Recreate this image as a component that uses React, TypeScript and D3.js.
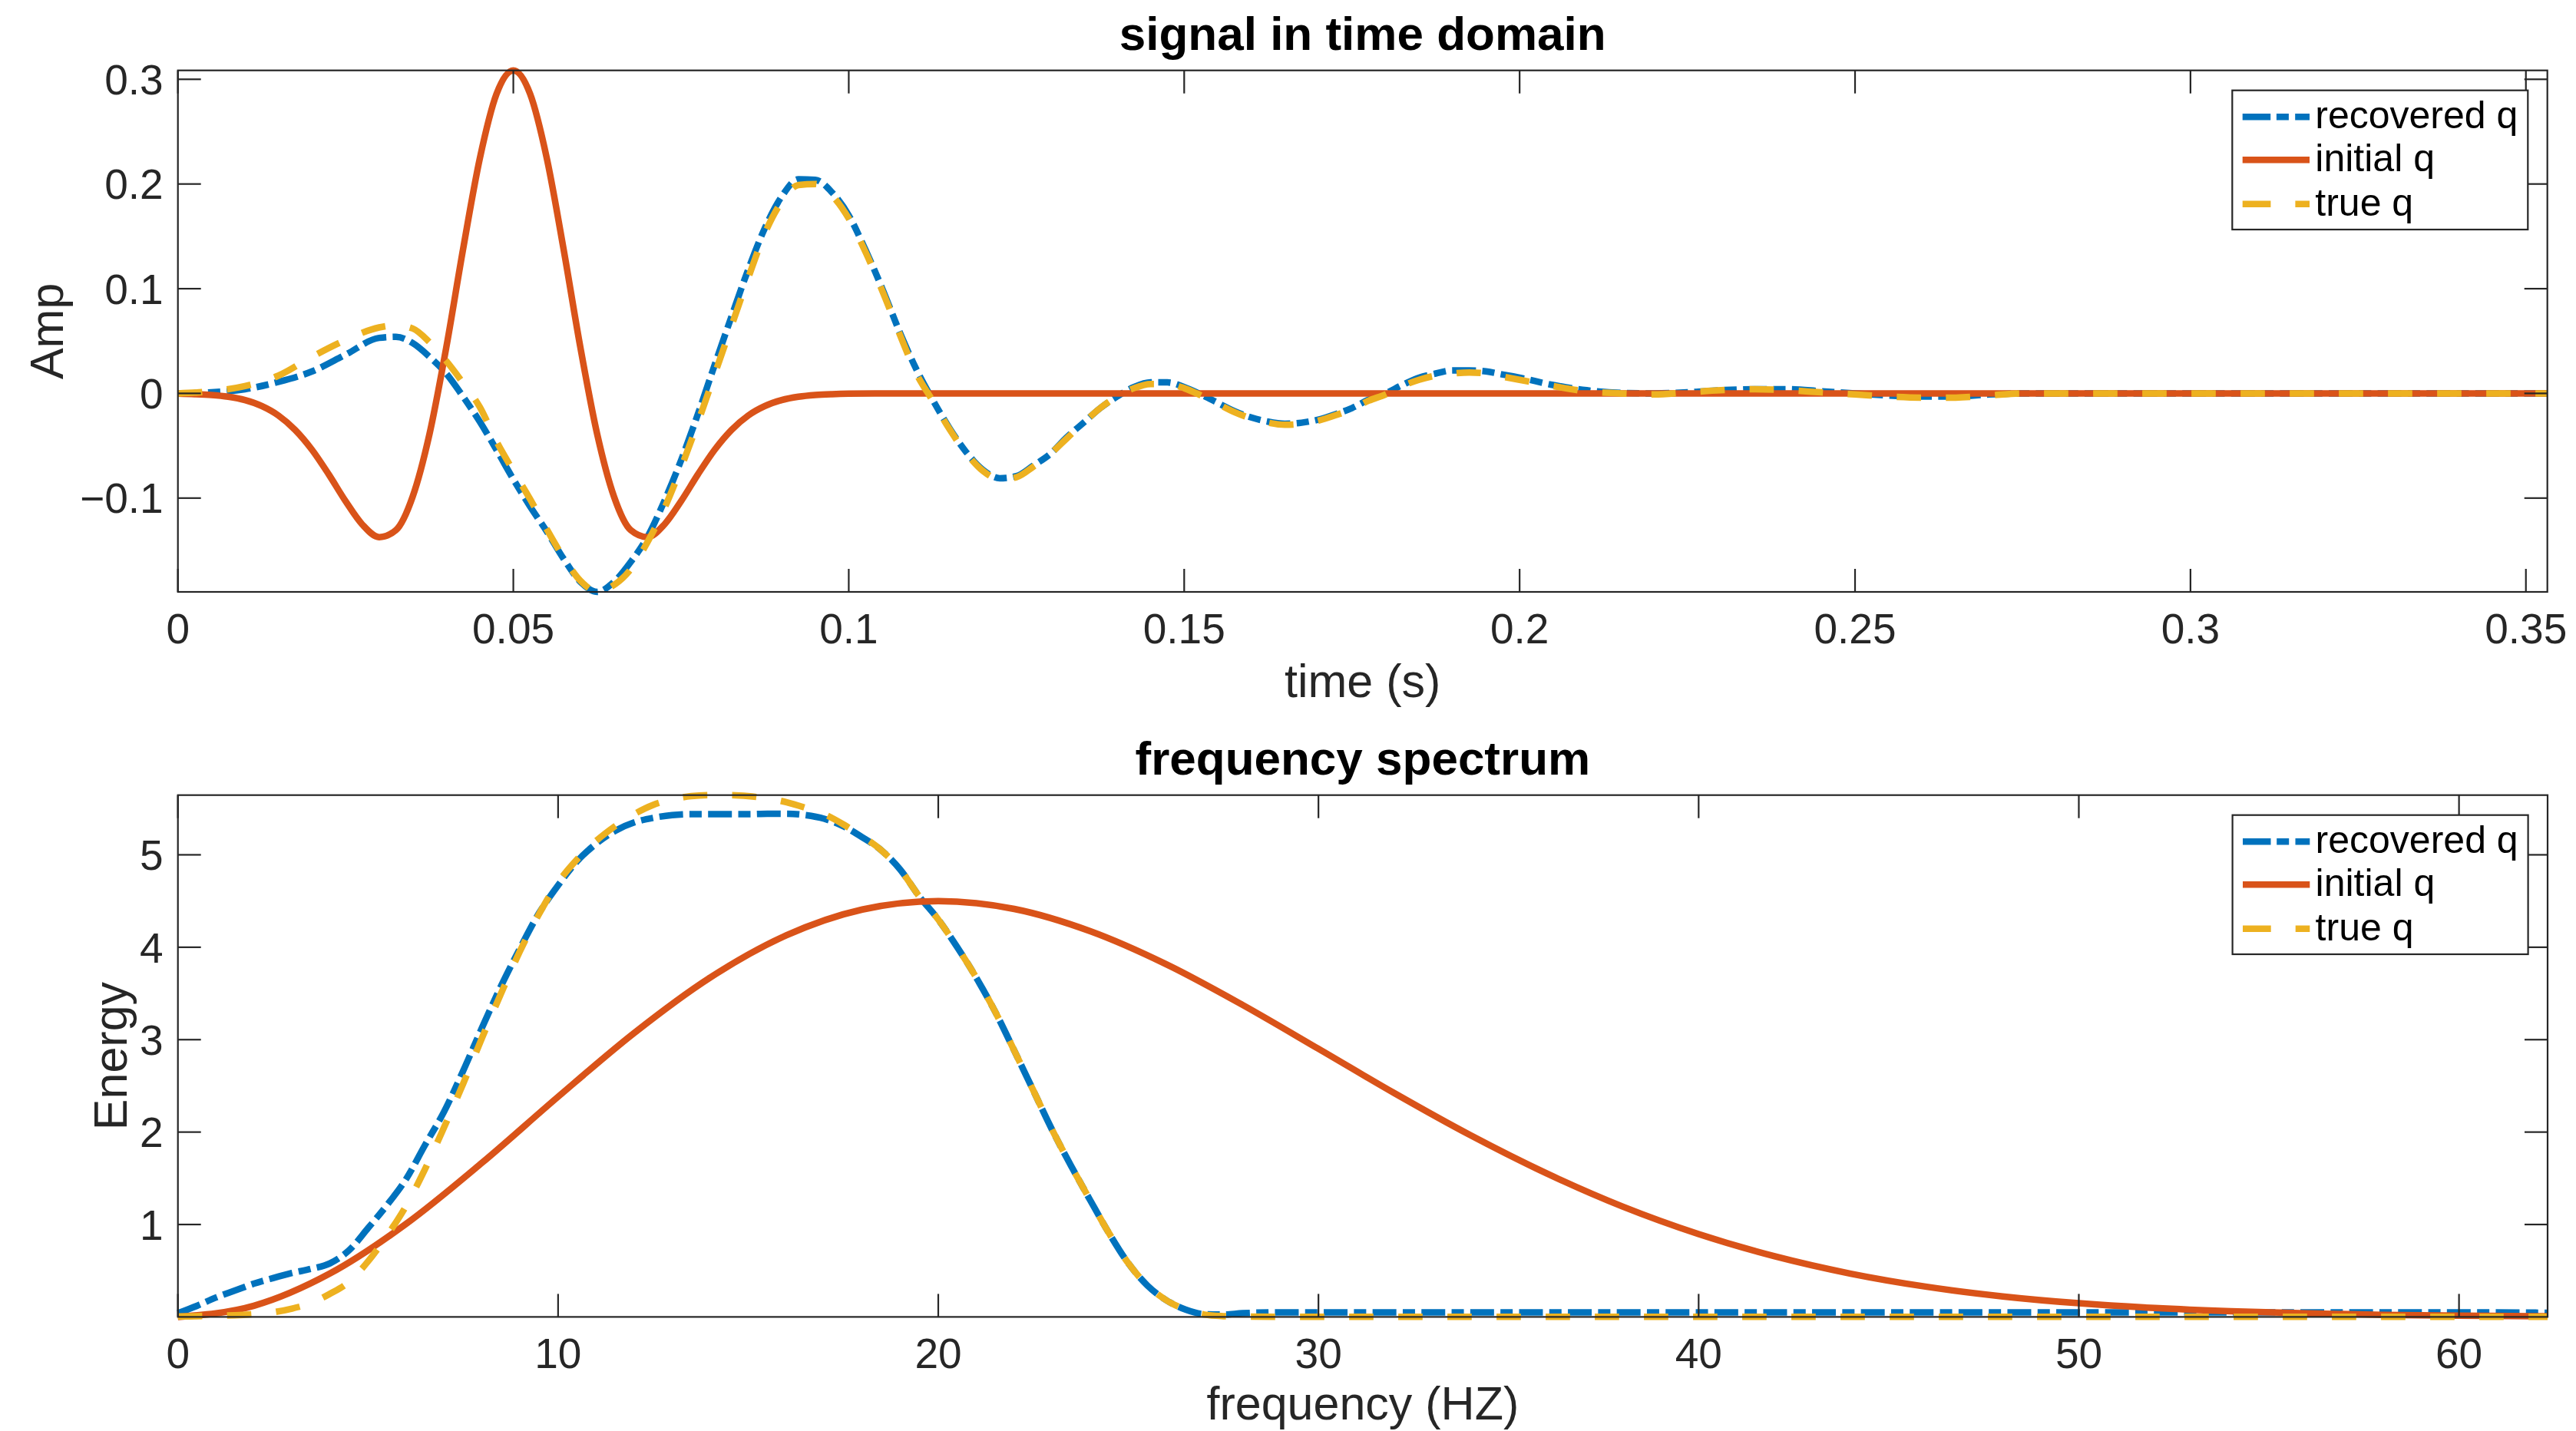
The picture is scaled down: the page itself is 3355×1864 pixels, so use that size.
import React from 'react';
import * as d3 from 'd3';

// ---------------- data: time domain ----------------
const timeInitial = [
  0, 0.0025, 0.005, 0.0075, 0.01, 0.0125, 0.015, 0.0175, 0.02, 0.0225,
  0.025, 0.0275, 0.03, 0.0325, 0.035, 0.0375, 0.04, 0.0425, 0.045, 0.0475,
  0.05,
  0.0525, 0.055, 0.0575, 0.06, 0.0625, 0.065, 0.0675, 0.07, 0.0725, 0.075,
  0.0775, 0.08, 0.0825, 0.085, 0.0875, 0.09, 0.0925, 0.095, 0.0975, 0.1,
  0.105, 0.11, 0.3532,
];
const ampInitial = [
  -0.0003, -0.0007, -0.0015, -0.0032, -0.0064, -0.0121, -0.0212, -0.035, -0.0539, -0.0775,
  -0.103, -0.1253, -0.1373, -0.1306, -0.0985, -0.0389, 0.0437, 0.1374, 0.2243, 0.2861,
  0.3085,
  0.2861, 0.2243, 0.1374, 0.0437, -0.0389, -0.0985, -0.1306, -0.1373, -0.1253, -0.103,
  -0.0775, -0.0539, -0.035, -0.0212, -0.0121, -0.0064, -0.0032, -0.0015, -0.0007, -0.0003,
  -0.0001, 0, 0,
];

const timeGrid = [
  0, 0.005, 0.01, 0.015, 0.02, 0.025, 0.03, 0.0325, 0.035, 0.0375,
  0.04, 0.0425, 0.045, 0.0475, 0.05, 0.0525, 0.055, 0.0575, 0.06, 0.0625,
  0.065, 0.0675, 0.07, 0.0725, 0.075, 0.0775, 0.08, 0.0825, 0.085, 0.0875,
  0.09, 0.0925, 0.095, 0.0975, 0.1, 0.1025, 0.105, 0.1075, 0.11, 0.1125,
  0.115, 0.1175, 0.12, 0.1225, 0.125, 0.1275, 0.13, 0.1325, 0.135, 0.1375,
  0.14, 0.1425, 0.145, 0.1475, 0.15, 0.1525, 0.155, 0.1575, 0.16, 0.1625,
  0.165, 0.1675, 0.17, 0.1725, 0.175, 0.1775, 0.18, 0.1825, 0.185, 0.1875,
  0.19, 0.1925, 0.195, 0.1975, 0.2, 0.205, 0.21, 0.215, 0.22, 0.225,
  0.23, 0.235, 0.24, 0.245, 0.25, 0.255, 0.26, 0.265, 0.27, 0.275, 0.3532,
];
const ampRecovered = [
  0, 0.001, 0.004, 0.011, 0.021, 0.037, 0.053, 0.054, 0.048, 0.035,
  0.019, -0.003, -0.027, -0.054, -0.082, -0.108, -0.132, -0.158, -0.18, -0.1896,
  -0.18, -0.161, -0.137, -0.103, -0.064, -0.02, 0.027, 0.073, 0.118, 0.158,
  0.188, 0.2045, 0.204, 0.192, 0.17, 0.137, 0.1, 0.06, 0.024, -0.006,
  -0.033, -0.056, -0.073, -0.081, -0.079, -0.069, -0.058, -0.042, -0.028, -0.014,
  -0.003, 0.006, 0.0105, 0.0105, 0.006, -0.001, -0.009, -0.017, -0.023, -0.027,
  -0.029, -0.028, -0.025, -0.02, -0.014, -0.006, 0, 0.008, 0.015, 0.019,
  0.022, 0.022, 0.021, 0.018, 0.015, 0.008, 0.003, 0.0005, 0, 0.001,
  0.003, 0.004, 0.004, 0.002, 0, -0.002, -0.003, -0.003, -0.001, 0, 0,
];
const ampTrue = [
  0, 0.002, 0.007, 0.017, 0.035, 0.051, 0.063, 0.065, 0.062, 0.049,
  0.031, 0.01, -0.013, -0.046, -0.074, -0.101, -0.13, -0.157, -0.179, -0.1893,
  -0.183, -0.168, -0.142, -0.11, -0.071, -0.028, 0.018, 0.064, 0.11, 0.153,
  0.183, 0.199, 0.2, 0.189, 0.167, 0.135, 0.098, 0.058, 0.02, -0.007,
  -0.034, -0.057, -0.074, -0.082, -0.08, -0.07, -0.058, -0.043, -0.028, -0.014,
  -0.003, 0.005, 0.009, 0.009, 0.005, -0.002, -0.01, -0.018, -0.024, -0.028,
  -0.03, -0.029, -0.026, -0.021, -0.015, -0.007, -0.001, 0.007, 0.013, 0.017,
  0.019, 0.02, 0.019, 0.016, 0.013, 0.007, 0.002, 0, -0.001, 0.001,
  0.003, 0.004, 0.003, 0.001, -0.001, -0.003, -0.004, -0.004, -0.002, 0, 0,
];

const timeDomain = [0, 0.3532];
const ampDomain = [-0.1896, 0.3085];
const timeTicks = [0, 0.05, 0.1, 0.15, 0.2, 0.25, 0.3, 0.35];
const timeTickLabels = ['0', '0.05', '0.1', '0.15', '0.2', '0.25', '0.3', '0.35'];
const ampTicks = [-0.1, 0, 0.1, 0.2, 0.3];
const ampTickLabels = ['\u22120.1', '0', '0.1', '0.2', '0.3'];

// ---------------- data: frequency spectrum ----------------
const freqInitial = [
  0, 2, 4, 6, 8, 10, 12, 14, 16, 18, 20, 22, 24, 26, 28, 30, 32,
  34, 36, 38, 40, 42, 44, 46, 48, 50, 52, 54, 56, 58, 60, 62, 62.33,
];
const energyInitial = [
  0, 0.121, 0.47, 1.006, 1.668, 2.382, 3.072, 3.672, 4.128, 4.408, 4.5, 4.414, 4.173, 3.815, 3.377, 2.901, 2.42,
  1.965, 1.553, 1.194, 0.896, 0.656, 0.468, 0.326, 0.222, 0.148, 0.096, 0.061, 0.038, 0.023, 0.014, 0.008, 0.007,
];

const freqGrid = [
  0, 0.5, 1, 1.5, 2, 2.5, 3, 3.5, 4, 4.5,
  5, 5.5, 6, 6.5, 7, 7.5, 8, 8.5, 9, 9.5,
  10, 10.5, 11, 11.5, 12, 12.5, 13, 13.5, 14, 14.5,
  15, 15.5, 16, 16.5, 17, 17.5, 18, 18.5, 19, 19.5,
  20, 20.5, 21, 21.5, 22, 22.5, 23, 23.5, 24, 24.5,
  25, 25.5, 26, 26.5, 27, 27.5, 28, 29, 30, 35,
  40, 45, 50, 55, 60, 62.33,
];
const energyRecovered = [
  0.04, 0.12, 0.21, 0.285, 0.36, 0.42, 0.475, 0.52, 0.58, 0.72,
  0.96, 1.21, 1.49, 1.86, 2.22, 2.66, 3.13, 3.58, 3.99, 4.37,
  4.67, 4.93, 5.12, 5.26, 5.35, 5.4, 5.43, 5.44, 5.44, 5.44,
  5.44, 5.445, 5.445, 5.43, 5.39, 5.31, 5.19, 5.05, 4.84, 4.55,
  4.3, 4.0, 3.67, 3.3, 2.88, 2.45, 2.02, 1.63, 1.26, 0.9,
  0.58, 0.34, 0.18, 0.08, 0.03, 0.025, 0.04, 0.05, 0.05, 0.05,
  0.05, 0.05, 0.05, 0.05, 0.05, 0.045,
];
const energyTrue = [
  0.005, 0.008, 0.012, 0.018, 0.03, 0.05, 0.09, 0.15, 0.25, 0.38,
  0.6, 0.88, 1.2, 1.6, 2.05, 2.52, 3.02, 3.5, 3.96, 4.36,
  4.7, 4.95, 5.15, 5.31, 5.44, 5.54, 5.6, 5.635, 5.646, 5.646,
  5.635, 5.61, 5.57, 5.51, 5.44, 5.33, 5.2, 5.05, 4.84, 4.55,
  4.3, 4.0, 3.67, 3.3, 2.88, 2.45, 2.02, 1.63, 1.26, 0.9,
  0.58, 0.34, 0.18, 0.08, 0.025, 0.008, 0.003, 0.002, 0.002, 0.002,
  0.002, 0.002, 0.002, 0.002, 0.002, 0.002,
];

const freqDomain = [0, 62.33];
const energyDomain = [0, 5.646];
const freqTicks = [0, 10, 20, 30, 40, 50, 60];
const freqTickLabels = ['0', '10', '20', '30', '40', '50', '60'];
const energyTicks = [1, 2, 3, 4, 5];
const energyTickLabels = ['1', '2', '3', '4', '5'];

const seriesNames = ['recovered q', 'initial q', 'true q'];
const seriesColors = ['#0072BD', '#D95319', '#EDB120'];

// ---------------- styling ----------------
const FONT = "'Liberation Sans', Arial, Helvetica, sans-serif";
const AXIS = '#262626';
const LW = 8.5;
const plotDash = ['31,8.3,16,8.3', null, '31.7,32.3'];
const legendDash = ['36.5,7.7,16,8.3', null, '36.7,32'];

type PanelProps = {
  left: number; right: number; top: number; bottom: number;
  xDomain: number[]; yDomain: number[];
  xTicks: number[]; xTickLabels: string[];
  yTicks: number[]; yTickLabels: string[];
  title: string; xLabel: string; yLabel: string;
  yLabelX: number; xLabelY: number;
  data: { xs: number[]; ys: number[] }[];
};

function zip(xs: number[], ys: number[]): [number, number][] {
  const n = Math.min(xs.length, ys.length);
  const out: [number, number][] = [];
  for (let i = 0; i < n; i++) out.push([xs[i], ys[i]]);
  return out;
}

function Panel(p: PanelProps) {
  const x = d3.scaleLinear().domain(p.xDomain).range([p.left, p.right]);
  const y = d3.scaleLinear().domain(p.yDomain).range([p.bottom, p.top]);
  const line = d3
    .line<[number, number]>()
    .x((d) => x(d[0]))
    .y((d) => y(d[1]))
    .curve(d3.curveMonotoneX);
  const TL = 30;
  const cx = (p.left + p.right) / 2;
  const cy = (p.top + p.bottom) / 2;
  const legL = p.right - 410.4;
  const legR = p.right - 25.4;
  const legT = p.top + 26;
  const legH = 181.3;
  const rows = [34.6, 90.6, 148];
  return (
    <g>
      {p.data.map((s, i) => (
        <path
          key={i}
          d={line(zip(s.xs, s.ys)) || ''}
          fill="none"
          stroke={seriesColors[i]}
          strokeWidth={LW}
          strokeDasharray={plotDash[i] || undefined}
          strokeLinejoin="round"
        />
      ))}
      <rect x={p.left} y={p.top} width={p.right - p.left} height={p.bottom - p.top} fill="none" stroke={AXIS} strokeWidth={2.2} />
      {p.xTicks.map((t, i) => (
        <g key={'xt' + i}>
          <line x1={x(t)} x2={x(t)} y1={p.bottom} y2={p.bottom - TL} stroke={AXIS} strokeWidth={2.2} />
          <line x1={x(t)} x2={x(t)} y1={p.top} y2={p.top + TL} stroke={AXIS} strokeWidth={2.2} />
          <text x={x(t)} y={p.bottom + 67} textAnchor="middle" fontFamily={FONT} fontSize={55} fill={AXIS}>
            {p.xTickLabels[i]}
          </text>
        </g>
      ))}
      {p.yTicks.map((t, i) => (
        <g key={'yt' + i}>
          <line x1={p.left} x2={p.left + TL} y1={y(t)} y2={y(t)} stroke={AXIS} strokeWidth={2.2} />
          <line x1={p.right} x2={p.right - TL} y1={y(t)} y2={y(t)} stroke={AXIS} strokeWidth={2.2} />
          <text x={p.left - 19} y={y(t)} dy="0.358em" textAnchor="end" fontFamily={FONT} fontSize={55} fill={AXIS}>
            {p.yTickLabels[i]}
          </text>
        </g>
      ))}
      <text x={cx} y={p.top - 27} textAnchor="middle" fontFamily={FONT} fontWeight="bold" fontSize={62} fill="#000">
        {p.title}
      </text>
      <text x={cx} y={p.xLabelY} textAnchor="middle" fontFamily={FONT} fontSize={61} fill={AXIS}>
        {p.xLabel}
      </text>
      <text transform={`translate(${p.yLabelX},${cy}) rotate(-90)`} textAnchor="middle" fontFamily={FONT} fontSize={61} fill={AXIS}>
        {p.yLabel}
      </text>
      <rect x={legL} y={legT} width={legR - legL} height={legH} fill="#fff" stroke={AXIS} strokeWidth={2.2} />
      {seriesNames.map((name, i) => (
        <g key={'lg' + i}>
          <line
            x1={legL + 13.4}
            x2={legL + 100.7}
            y1={legT + rows[i]}
            y2={legT + rows[i]}
            stroke={seriesColors[i]}
            strokeWidth={LW}
            strokeDasharray={legendDash[i] || undefined}
          />
          <text x={legL + 108} y={legT + rows[i] + 15} fontFamily={FONT} fontSize={50} fill="#000">
            {name}
          </text>
        </g>
      ))}
    </g>
  );
}

export default function App() {
  return (
    <svg
      width={3355}
      height={1864}
      style={{ position: 'absolute', left: 0, top: 0, background: '#fff' }}
      xmlns="http://www.w3.org/2000/svg"
    >
      <rect x={0} y={0} width={3355} height={1864} fill="#fff" />
      <Panel
        left={231.7}
        right={3317.7}
        top={91.7}
        bottom={771}
        xDomain={timeDomain}
        yDomain={ampDomain}
        xTicks={timeTicks}
        xTickLabels={timeTickLabels}
        yTicks={ampTicks}
        yTickLabels={ampTickLabels}
        title="signal in time domain"
        xLabel="time (s)"
        yLabel="Amp"
        yLabelX={81.7}
        xLabelY={908.3}
        data={[
          { xs: timeGrid, ys: ampRecovered },
          { xs: timeInitial, ys: ampInitial },
          { xs: timeGrid, ys: ampTrue },
        ]}
      />
      <Panel
        left={231.7}
        right={3318}
        top={1035.7}
        bottom={1715.4}
        xDomain={freqDomain}
        yDomain={energyDomain}
        xTicks={freqTicks}
        xTickLabels={freqTickLabels}
        yTicks={energyTicks}
        yTickLabels={energyTickLabels}
        title="frequency spectrum"
        xLabel="frequency (HZ)"
        yLabel="Energy"
        yLabelX={164.5}
        xLabelY={1849}
        data={[
          { xs: freqGrid, ys: energyRecovered },
          { xs: freqInitial, ys: energyInitial },
          { xs: freqGrid, ys: energyTrue },
        ]}
      />
    </svg>
  );
}
